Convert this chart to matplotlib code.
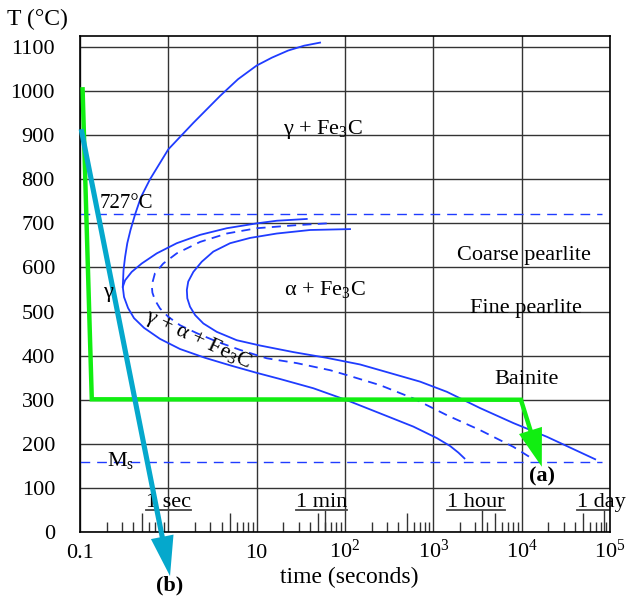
import matplotlib
matplotlib.use("Agg")
import numpy as np
import matplotlib.pyplot as plt
from matplotlib.patches import Polygon
from matplotlib.transforms import IdentityTransform

plt.rcParams["font.family"] = ["Liberation Serif", "DejaVu Serif"]
plt.rcParams["mathtext.fontset"] = "custom"
plt.rcParams["mathtext.rm"] = "Liberation Serif"
plt.rcParams["mathtext.it"] = "Liberation Serif:italic"
plt.rcParams["mathtext.bf"] = "Liberation Serif:bold"

# austenite boundary (top curve down to the nose)
gamma_t = [52.2, 34.4, 22.7, 14.9, 10, 6.15, 3.85, 1.92, 1.0, 0.62, 0.491, 0.42,
           0.373, 0.343, 0.324, 0.311, 0.305]
gamma_T = [1110, 1103, 1092, 1076, 1058, 1027, 989, 928, 868, 800, 760, 720,
           685, 655, 624, 594, 556]

# start of transformation
start_t = [36.9, 16.9, 10, 4.59, 2.29, 1.245, 0.74, 0.50, 0.385, 0.324, 0.305,
           0.315, 0.350, 0.409, 0.531, 0.805, 1.357, 2.61, 5.0, 10, 18.4, 43.9,
           104.7, 250, 595, 1096, 1550, 1923, 2250]
start_T = [710, 706, 700, 689, 674, 655, 632, 609, 590, 571, 556,
           533, 508, 485, 463, 438, 415, 395, 378, 361, 347, 326,
           299, 269, 239, 213, 195, 180, 167]

# 50 % (dashed)
half_t = [62.2, 28.5, 10.0, 4.59, 2.29, 1.245, 0.877, 0.706, 0.649, 0.66, 0.706,
          0.805, 1.0, 1.357, 2.10, 3.53, 6.49, 13.0, 28.5, 67.8, 104.7, 250, 595,
          1422, 3388, 8075, 13030]
half_T = [700, 696, 689, 677, 658, 632, 609, 587, 560, 543, 526,
          507, 488, 469, 451, 432, 413, 394, 383, 367, 356, 333, 303,
          265, 231, 193, 167]

# end of transformation
end_t = [114, 40.3, 16.9, 8.42, 5.0, 3.23, 2.39, 1.92, 1.68, 1.62, 1.64, 1.76,
         2.01, 2.49, 3.53, 5.95, 10.9, 26.1, 62.2, 148, 250, 709, 1422, 3388,
         8075, 19280, 67950]
end_T = [687, 685, 677, 667, 655, 636, 613, 590, 568, 549, 530, 511,
         492, 473, 454, 435, 423, 408, 395, 380, 367, 341, 318, 281,
         247, 216, 165]

eutectoid_T = 722
ms_T = 158
dash_t = [0.1, 81700]

# cooling paths
path_a_t = [0.107, 0.136, 9800]
path_a_T = [1004, 301, 300]
arrow_a_tip = (16900, 148)
path_b_start = (0.1045, 908)
path_b_tip = (1.045, -100)

x_major = [0.1, 1, 10, 100, 1e3, 1e4, 1e5]
x_labels = ["0.1", "", "10", "10$^2$", "10$^3$", "10$^4$", "10$^5$"]
y_major = list(range(0, 1101, 100))

unit_names = ["1 sec", "1 min", "1 hour", "1 day"]
unit_secs = [60, 3600, 86400]
unit_label_t = [1.0, 54, 3050, 79000]

BLUE = "#1f3cff"
GREEN = "#11ee11"
CYAN = "#05a8cc"
GRID = "#333333"

fig = plt.figure(figsize=(6.27, 5.96), dpi=100)
ax = fig.add_axes([80 / 627, 64 / 596, 530 / 627, 496 / 596])
ax.set_xscale("log")
ax.set_xlim(0.1, 1e5)
ax.set_ylim(0, 1125)

ax.set_xticks(x_major)
ax.set_xticklabels([])
ax.xaxis.set_minor_locator(matplotlib.ticker.NullLocator())
ax.set_yticks(y_major)
ax.tick_params(axis="both", length=0)
ax.tick_params(axis="y", pad=18, labelsize=16)
ax.grid(True, color=GRID, lw=1.0)
ax.set_axisbelow(True)
for s in ax.spines.values():
    s.set_linewidth(1.2)
    s.set_color("black")

for t, lab in zip(x_major, x_labels):
    ax.text(t, -0.052, lab, transform=ax.get_xaxis_transform(), ha="center",
            va="baseline", fontsize=16)

# little time marks along the bottom
short = []
tall = []
for dec in [0.1, 1, 10, 100, 1e3, 1e4]:
    for m in [2, 3, 4, 6, 7, 8, 9]:
        short.append(m * dec)
    tall.append(5 * dec)
ax.vlines(short, 0, 23, color=GRID, lw=1.0)
ax.vlines(tall, 0, 43, color=GRID, lw=1.0)
ax.vlines(unit_secs, 0, 50, color=GRID, lw=1.0)

unit_texts = []
for name, t in zip(unit_names, unit_label_t):
    unit_texts.append(ax.text(t, 57, name, ha="center", va="baseline", fontsize=16))

# curves
ax.plot(gamma_t, gamma_T, color=BLUE, lw=1.3)
ax.plot(start_t, start_T, color=BLUE, lw=1.3)
ax.plot(half_t, half_T, color=BLUE, lw=1.3, dashes=(5, 3.5))
ax.plot(end_t, end_T, color=BLUE, lw=1.3)
ax.plot(dash_t, [eutectoid_T] * 2, color=BLUE, lw=1.0, dashes=(7, 5))
ax.plot(dash_t, [ms_T] * 2, color=BLUE, lw=1.0, dashes=(7, 5))


def arrow_head(start, tip, length, width, color):
    # head drawn in pixels so it is a true triangle on the log axis
    p0, p1 = ax.transData.transform([start, tip])
    u = (p1 - p0) / np.hypot(*(p1 - p0))
    n = np.array([-u[1], u[0]])
    base = p1 - u * length
    tri = [p1, base + n * width / 2, base - n * width / 2]
    ax.add_patch(Polygon(tri, closed=True, transform=IdentityTransform(),
                         facecolor=color, edgecolor="none", clip_on=False,
                         zorder=3))
    return ax.transData.inverted().transform(base)


# cooling path (a)
base_a = arrow_head((path_a_t[-1], path_a_T[-1]), arrow_a_tip, 38, 24, GREEN)
ax.plot(path_a_t + [base_a[0]], path_a_T + [base_a[1]], color=GREEN, lw=3.2,
        solid_joinstyle="miter", zorder=3)

# cooling path (b)
base_b = arrow_head(path_b_start, path_b_tip, 40, 23, CYAN)
ax.plot([path_b_start[0], base_b[0]], [path_b_start[1], base_b[1]], color=CYAN,
        lw=3.7, clip_on=False, zorder=3)

# labels
ax.text(56.5, 912, r"γ + Fe$_3$C", ha="center", va="center", fontsize=16)
ax.text(0.168, 746, "727°C", ha="left", va="center", fontsize=15)
ax.text(0.207, 544, "γ", ha="center", va="center", fontsize=16)
ax.text(59.6, 549, r"α + Fe$_3$C", ha="center", va="center", fontsize=16)
ax.text(2.17, 435, r"γ + α + Fe$_3$C", ha="center", va="center", fontsize=16,
        rotation=-25)
ax.text(10670, 628, "Coarse pearlite", ha="center", va="center", fontsize=16)
ax.text(11250, 506, "Fine pearlite", ha="center", va="center", fontsize=16)
ax.text(11250, 347, "Bainite", ha="center", va="center", fontsize=16)
ax.text(0.202, 163, r"M$_{\rm s}$", ha="left", va="center", fontsize=16)
ax.text(16900, 127, r"(a)", ha="center", va="center", fontsize=16,
        fontweight="bold")
ax.text(1.045, -122, r"(b)", ha="center", va="center", fontsize=16,
        fontweight="bold", clip_on=False)

fig.text(37 / 627, 1 - 19 / 596, "T (°C)", ha="center", va="center", fontsize=17)
fig.text(349 / 627, 1 - 577 / 596, "time (seconds)", ha="center", va="center",
         fontsize=17)

# underline the time unit labels
fig.canvas.draw()
renderer = fig.canvas.get_renderer()
inv = ax.transData.inverted()
for txt in unit_texts:
    bb = txt.get_window_extent(renderer)
    x0 = inv.transform((bb.x0, 0))[0]
    x1 = inv.transform((bb.x1, 0))[0]
    ax.plot([x0, x1], [51, 51], color="#444444", lw=1.3)

fig.savefig("out.png", dpi=100, facecolor="white")
